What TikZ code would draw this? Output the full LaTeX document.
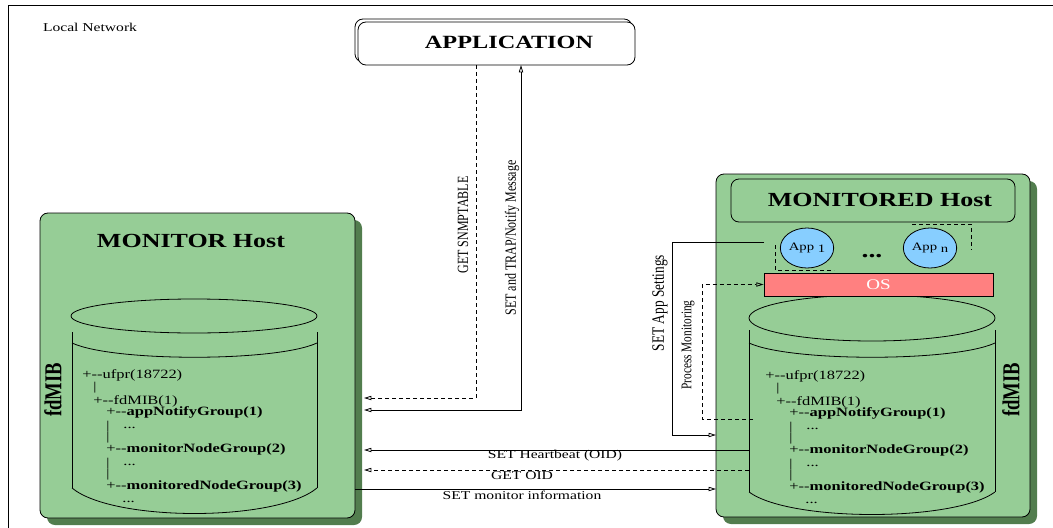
\documentclass[tikz,border=0pt]{standalone}
\usepackage{fontspec}
\setmainfont{Liberation Serif}
\usepackage{graphicx}
\usetikzlibrary{arrows.meta,fit,shapes.geometric}

\definecolor{hostgreen}{RGB}{150,205,150}
\definecolor{hostshadow}{RGB}{82,125,78}
\definecolor{appblue}{RGB}{135,206,255}
\definecolor{osred}{RGB}{255,128,128}

% text is set a bit wider than tall
\newcommand{\wide}[1]{\scalebox{1.3}[1]{#1}}
\newcommand{\tall}[1]{\scalebox{1}[1.3]{#1}}
\newcommand{\fs}[1]{\fontsize{#1}{#1}\selectfont}

\tikzset{
  msg/.style={-{Triangle[open,length=5.5pt,width=3.2pt]}, line width=0.6pt},
  dsh/.style={dash pattern=on 3pt off 2.25pt},
  lbl/.style={inner sep=0pt, font=\fs{9}},
  mib/.style={anchor=west, inner sep=0pt, font=\fs{9.5}},
  bar/.style={inner sep=0pt, font=\fs{9}},
  hostbox/.style={draw, fill=hostgreen, rounded corners=6pt, inner sep=0pt, line width=0.6pt},
}

% the fdMIB tree, drawn from the current origin
\newcommand{\mibtree}[1]{%
  \node[mib] (#1ufpr) at (0,0) {\wide{+-{}-ufpr(18722)}};
  \node[bar] (#1bar0) at (13,13) {\wide{|}};
  \node[mib] (#1fdmib) at (11,26) {\wide{+-{}-fdMIB(1)}};
  \node[mib] (#1notify) at (24,37) {\wide{+-{}-\textbf{appNotifyGroup(1)}}};
  \node[bar] (#1barA) at (26,52) {\wide{|}};
  \node[mib] (#1dotsA) at (41,53) {\wide{...}};
  \node[bar] (#1barB) at (26,63) {\wide{|}};
  \node[mib] (#1monitor) at (24,74) {\wide{+-{}-\textbf{monitorNodeGroup(2)}}};
  \node[bar] (#1barC) at (26,89) {\wide{|}};
  \node[mib] (#1dotsC) at (41,90) {\wide{...}};
  \node[bar] (#1barD) at (26,100) {\wide{|}};
  \node[mib] (#1monitored) at (24,111) {\wide{+-{}-\textbf{monitoredNodeGroup(3)}}};
  \node[mib] (#1dotsE) at (40,127) {\wide{...}};
}

\begin{document}
\begin{tikzpicture}[x=0.75pt,y=0.75pt,yscale=-1,xscale=1,line width=0.6pt]
\useasboundingbox (0,0) rectangle (1053,528);

%Local network frame
\draw (8,528) -- (8,5) -- (1053,5);
\node[lbl] (lan) at (90,27) {\wide{Local Network}};

%Application box
\draw[rounded corners=6pt] (355,19) rectangle (632,62);
\node[fit={(358,22)(635,65)}, draw, fill=white, rounded corners=6pt, inner sep=0pt] (app) {};
\node[inner sep=0pt, font=\bfseries\fs{14}] (appText) at (509,42) {\wide{APPLICATION}};

%MONITOR host
\fill[hostshadow, rounded corners=6pt] (47,220) rectangle (362,525);
\node[hostbox, fit={(40,213)(355,518)}] (mon) {};
\node[inner sep=0pt, font=\bfseries\fs{15}] (monTitle) at (191,241) {\wide{MONITOR Host}};
\node[inner sep=0pt, font=\bfseries\fs{14}, rotate=90] (monMib) at (53,390) {\tall{fdMIB}};

%Can: left database
\draw (194,316) ellipse (123 and 17);
\draw (72,332) -- (72,488);
\draw (317,332) -- (317,488);
\draw (72,343) .. controls (113,362) and (276,362) .. (317,343);
\draw (72,488) .. controls (113,522) and (276,522) .. (317,488);
\begin{scope}[shift={(82,375)}]
  \mibtree{l}
\end{scope}

%MONITORED host
\fill[hostshadow, rounded corners=6pt] (723,181) rectangle (1037,524);
\node[hostbox, fit={(716,174)(1030,517)}] (mond) {};
\node[hostbox, fit={(731,179)(1015,222)}] (mondBox) {};
\node[inner sep=0pt, font=\bfseries\fs{15}] (mondTitle) at (880,200) {\wide{MONITORED Host}};
\node[inner sep=0pt, font=\bfseries\fs{14}, rotate=90] (mondMib) at (1011,390) {\tall{fdMIB}};

%Can: right database
\draw (872,318) ellipse (123 and 23);
\draw (749,330) -- (749,492);
\draw (995,330) -- (995,492);
\draw (749,343) .. controls (790,362) and (954,362) .. (995,343);
\draw (749,492) .. controls (790,522) and (954,522) .. (995,492);
\begin{scope}[shift={(765,376)}]
  \mibtree{r}
\end{scope}

%Applications and OS
\node[draw, ellipse, fill=appblue, minimum width=40pt, minimum height=30pt, inner sep=0pt, font=\fs{8.5}] (app1) at (807,248) {\wide{App \raisebox{-1.5pt}{1}}};
\node[draw, ellipse, fill=appblue, minimum width=40pt, minimum height=30pt, inner sep=0pt, font=\fs{8.5}] (appn) at (930,248) {\wide{App \raisebox{-1.5pt}{n}}};
\node[anchor=base, inner sep=0pt, font=\bfseries\fs{16}] (dots) at (872,257) {\wide{...}};
\node[draw, fill=osred, fit={(764,273)(993,296)}, inner sep=0pt] (os) {};
\node[inner sep=0pt, text=white, font=\fs{11}] (osText) at (os.center) {\wide{OS}};

\coordinate (watch1) at (775,245);
\coordinate (watch1e) at (834,270);
\coordinate (watchn) at (912,224);
\coordinate (watchne) at (971,250);
\draw[dsh] (watch1) |- (watch1e);
\draw[dsh] (watchn) -| (watchne);

%Application <-> MONITOR
\coordinate (snmpTop) at (476,65);
\coordinate (snmpEnd) at (364,398);
\coordinate (trapTop) at (521,65);
\coordinate (trapEnd) at (364,410);
\draw[msg, dsh] (snmpTop) |- (snmpEnd);
\draw[msg, {Triangle[open,length=5.5pt,width=3.2pt]}-{Triangle[open,length=5.5pt,width=3.2pt]}] (trapEnd) -| (trapTop);
\node[lbl, rotate=90] (snmpLbl) at (463,225) {\tall{GET SNMPTABLE}};
\node[lbl, rotate=90] (trapLbl) at (512,238) {\tall{SET and TRAP/Notify Message}};

%MONITORED host internals
\coordinate (setAppStart) at (764,242);
\coordinate (setAppEnd) at (716,435);
\draw[msg] (setAppStart) -- ++(-92,0) |- (setAppEnd);
\node[lbl, rotate=90, font=\fs{10}] (setAppLbl) at (660,303) {\tall{SET App Settings}};
\coordinate (procStart) at (753,419);
\draw[msg, dsh] (procStart) -- ++(-51,0) |- (os.west);
\node[lbl, rotate=90, font=\fs{8.5}] (procLbl) at (688,345) {\tall{Process Monitoring}};

%MONITOR <-> MONITORED
\coordinate (hbStart) at (749,450);
\coordinate (hbEnd) at (364,450);
\coordinate (oidStart) at (749,470);
\coordinate (oidEnd) at (364,470);
\coordinate (infoStart) at (355,489);
\coordinate (infoEnd) at (716,489);
\draw[msg] (hbStart) -- (hbEnd);
\draw[msg, dsh] (oidStart) -- (oidEnd);
\draw[msg] (infoStart) -- (infoEnd);
\node[lbl] (hbLbl) at (555,456) {\wide{SET Heartbeat (OID)}};
\node[lbl] (oidLbl) at (522,476) {\wide{GET OID}};
\node[lbl] (infoLbl) at (522,495) {\wide{SET monitor information}};

\end{tikzpicture}
\end{document}
